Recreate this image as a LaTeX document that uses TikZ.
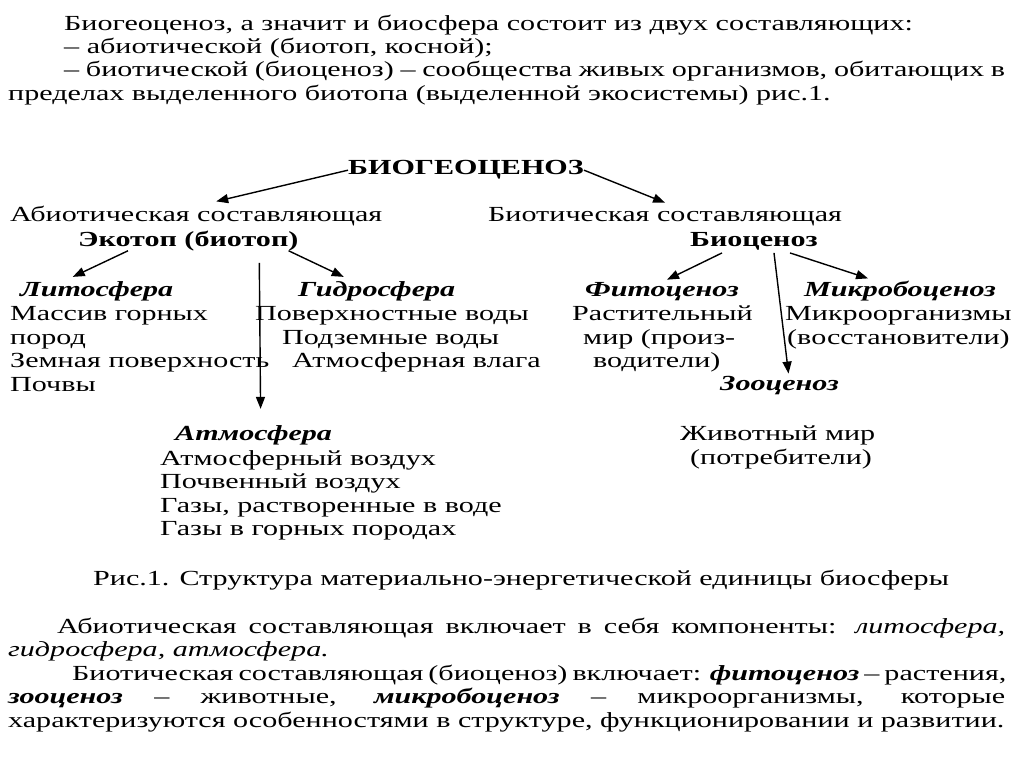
\documentclass[tikz,border=0pt]{standalone}
\usepackage{fontspec}
\setmainfont{Liberation Serif}[FakeStretch=1.4]
\usetikzlibrary{arrows.meta,positioning}

\begin{document}
\begin{tikzpicture}[x=1pt,y=-1pt,
  txt/.style={anchor=base west,inner sep=0pt,font=\fontsize{21.5}{24}\selectfont},
  bold/.style={txt,font=\fontsize{21.5}{24}\selectfont\bfseries},
  head/.style={txt,font=\fontsize{21.5}{24}\selectfont\bfseries\itshape},
  arr/.style={-{Triangle[length=12pt,width=9pt]},line width=1.4pt}]
\useasboundingbox[fill=white] (0,0) rectangle (1024,767);

% text above the figure
\node[txt] (p1) at (64,31) {Биогеоценоз, а значит и биосфера состоит из двух составляющих:};
\node[txt] (p2) at (64,54) {– абиотической (биотоп, косной);};
\node[txt] (p3) at (64,77) {\makebox[941pt][s]{– биотической (биоценоз) – сообщества живых организмов, обитающих в}};
\node[txt] (p4) at (8,101) {пределах выделенного биотопа (выделенной экосистемы) рис.1.};

% figure
\node[bold] (bgc) at (348,175) {БИОГЕОЦЕНОЗ};
\node[txt] (abio) at (10,222) {Абиотическая составляющая};
\node[bold] (ekotop) at (78,246) {Экотоп (биотоп)};
\node[txt] (bio) at (488,222) {Биотическая составляющая};
\node[bold] (bioc) at (690,246) {Биоценоз};

\node[head] (lito) at (20,296) {Литосфера};
\node[head] (gidro) at (298,296) {Гидросфера};
\node[head] (fito) at (585,296) {Фитоценоз};
\node[head] (mikro) at (804,296) {Микробоценоз};
\node[head] (zoo) at (720,390) {Зооценоз};
\node[head] (atmo) at (175,440) {Атмосфера};

\foreach \n/\x/\y/\t in {l1/10/320/Массив горных, l2/10/344/пород,
    l3/10/367/Земная поверхность, l4/10/391/Почвы,
    g1/255/320/Поверхностные воды, g2/282/344/Подземные воды,
    g3/292/367/Атмосферная влага,
    f1/572/320/Растительный, f2/583/344/мир (произ-, f3/593/367/водители),
    m1/785/320/Микроорганизмы, m2/787/344/(восстановители),
    z1/680/440/Животный мир, z2/690/464/(потребители),
    a1/160/465/Атмосферный воздух, a2/160/488/Почвенный воздух,
    a3/160/512/{Газы, растворенные в воде}, a4/160/535/Газы в горных породах}
  \node[txt] (\n) at (\x,\y) {\t};

\draw[arr] (bgc.west) -- ([xshift=20pt,yshift=5pt]abio.north);
\draw[arr] (bgc.east) -- ([yshift=5pt]bio.north);
\draw[arr] ([xshift=50pt]ekotop.south west) -- ([xshift=-24pt,yshift=4pt]lito.north);
\draw[arr] ([xshift=-10pt]ekotop.south east) -- ([xshift=-33pt,yshift=4pt]gidro.north);
\draw[arr] ([xshift=71pt,yshift=-12pt]ekotop.south) -- ([xshift=7pt,yshift=16pt]atmo.north);
\draw[arr] ([xshift=32pt,yshift=-3pt]bioc.south west) -- ([xshift=5pt,yshift=2pt]fito.north);
\draw[arr] ([xshift=84pt,yshift=-3pt]bioc.south west) -- ([xshift=9pt,yshift=2pt]zoo.north);
\draw[arr] ([xshift=100pt,yshift=-3pt]bioc.south west) -- ([xshift=-32pt,yshift=2pt]mikro.north);

\node[txt] (cap) at (93,585) {Рис.1. Структура материально-энергетической единицы биосферы};

% text below the figure
\node[txt] (b1) at (57,633) {\makebox[948pt][s]{Абиотическая составляющая включает в себя компоненты: \textit{литосфера,}}};
\node[txt] (b2) at (8,656) {\textit{гидросфера, атмосфера.}};
\node[txt] (b3) at (72,680) {\makebox[933pt][s]{Биотическая составляющая (биоценоз) включает: \textbf{\textit{фитоценоз}} – растения,}};
\node[txt] (b4) at (8,703) {\makebox[997pt][s]{\textbf{\textit{зооценоз}} – животные, \textbf{\textit{микробоценоз}} – микроорганизмы, которые}};
\node[txt] (b5) at (8,727) {характеризуются особенностями в структуре, функционировании и развитии.};
\end{tikzpicture}
\end{document}
